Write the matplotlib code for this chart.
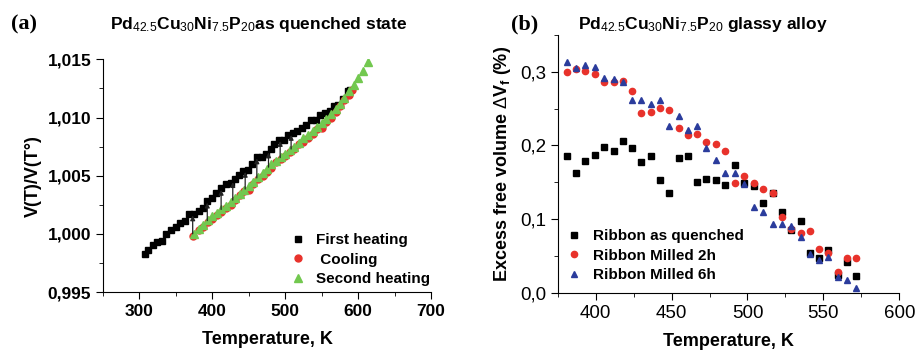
import numpy as np
import matplotlib
matplotlib.use("Agg")
from matplotlib import pyplot as plt
from matplotlib.ticker import FuncFormatter, MultipleLocator

plt.rcParams['font.family'] = ['Liberation Sans', 'DejaVu Sans']
plt.rcParams['mathtext.fontset'] = 'custom'
plt.rcParams['mathtext.rm'] = 'Liberation Sans'
plt.rcParams['mathtext.bf'] = 'Liberation Sans:bold'
plt.rcParams['mathtext.it'] = 'Liberation Sans:italic'

# ---- panel (a): dilatometry, V(T)/V(T0)
t_first = [307, 312, 318, 324.5, 331, 337, 343.5, 350, 356, 362.5, 368, 374.5,
           381, 387, 393, 399, 405.5, 412, 418.5, 425, 430.5, 436.5, 442, 448.5,
           454.5, 461, 467.5, 473.5, 480, 485, 491.5, 498, 504, 510.5, 516.5, 523,
           529, 535, 541.5, 548, 554.5, 561, 566.5, 573, 579, 585.5, 589]
v_first = [0.9983, 0.9986, 0.9990, 0.9993, 0.9994, 1.0000, 1.0003, 1.0006, 1.0009,
           1.0011, 1.0017, 1.0017, 1.0020, 1.0022, 1.0028, 1.0031, 1.0035, 1.0039,
           1.0043, 1.0044, 1.0047, 1.0051, 1.0054, 1.0055, 1.0060, 1.0066, 1.0066,
           1.0069, 1.0073, 1.0077, 1.0081, 1.0081, 1.0085, 1.0087, 1.0088, 1.0091,
           1.0094, 1.0098, 1.0098, 1.0102, 1.0104, 1.0106, 1.0110, 1.0111, 1.0116,
           1.0123, 1.0124]

t_cool = [374, 381, 387.5, 394, 400, 406, 412, 419, 425, 431, 437.5, 444, 450,
          456, 462.5, 469, 475, 481, 487.5, 494, 500, 506, 512.5, 519, 525, 531,
          537.5, 544, 550, 556, 562.5, 569, 575, 581, 587.5, 591]
v_cool = [0.9998, 1.0003, 1.0006, 1.0010, 1.0013, 1.0016, 1.0019, 1.0022, 1.0025,
          1.0029, 1.0033, 1.0037, 1.0038, 1.0043, 1.0047, 1.0050, 1.0053, 1.0057,
          1.0062, 1.0064, 1.0067, 1.0070, 1.0073, 1.0077, 1.0079, 1.0082, 1.0086,
          1.0090, 1.0091, 1.0096, 1.0100, 1.0105, 1.0110, 1.0115, 1.0119, 1.0124]

t_second = [375, 381, 387.5, 394, 400, 406, 412, 419, 425, 431, 437.5, 444, 450,
            456, 462.5, 469, 475, 481, 487.5, 494, 500, 506, 512.5, 519, 525, 531,
            537.5, 544, 550, 556, 562.5, 569, 575, 581, 587.5, 594, 600, 606, 614]
v_second = [1.0000, 1.0004, 1.0008, 1.0012, 1.0015, 1.0018, 1.0021, 1.0024, 1.0027,
            1.0031, 1.0034, 1.0038, 1.0041, 1.0045, 1.0049, 1.0052, 1.0056, 1.0060,
            1.0063, 1.0066, 1.0069, 1.0072, 1.0075, 1.0078, 1.0082, 1.0085, 1.0088,
            1.0092, 1.0095, 1.0099, 1.0103, 1.0107, 1.0112, 1.0117, 1.0123, 1.0128,
            1.0134, 1.0140, 1.0148]

# temperatures where the thin arrows join the two heating curves
t_arrows = [373, 393, 412, 428, 445, 461, 477, 493, 508]

# ---- panel (b): excess free volume
t_b = [381, 387, 393, 399.5, 405.5, 412, 418, 424, 430, 436.5, 442.5, 448.5, 455,
       461, 467, 473, 479.5, 485.5, 491.5, 498, 504, 510, 516.5, 522.5, 528.5, 535,
       541, 547, 553, 559.5, 565.5, 571.5]
fv_quenched = [0.186, 0.162, 0.179, 0.187, 0.198, 0.193, 0.2055, 0.196, 0.177, 0.1856,
               0.153, 0.135, 0.183, 0.186, 0.150, 0.155, 0.153, 0.146, 0.174, 0.149,
               0.1456, 0.1216, 0.135, 0.110, 0.085, 0.098, 0.0536, 0.0477, 0.058,
               0.0236, 0.042, 0.0227]
fv_milled2 = [0.2998, 0.304, 0.3007, 0.2976, 0.2867, 0.2867, 0.287, 0.2735, 0.2445,
              0.2449, 0.2513, 0.248, 0.2237, 0.214, 0.2155, 0.205, 0.2014, 0.1924,
              0.149, 0.1588, 0.149, 0.141, 0.136, 0.1025, 0.087, 0.0808, 0.0844,
              0.060, 0.0545, 0.028, 0.047, 0.0475]
fv_milled6 = [0.313, 0.3057, 0.309, 0.3066, 0.291, 0.290, 0.2866, 0.262, 0.262,
              0.2558, 0.262, 0.2259, 0.240, 0.2204, 0.2259, 0.196, 0.1796, 0.163,
              0.1624, 0.148, 0.116, 0.1098, 0.0939, 0.0939, 0.0912, 0.0753, 0.0527,
              0.0445, 0.049, 0.0214, 0.0173, 0.006]

RED = '#e8322b'
GREEN = '#72c84f'
BLUE = '#2b3c9c'


def comma(fmt):
    return FuncFormatter(lambda v, p: fmt.format(v).replace('.', ','))


fig = plt.figure(figsize=(9.15, 3.53), dpi=100)

# ---------------- (a)
ax1 = fig.add_axes([0.1126, 0.1728, 0.3585, 0.659])
for t in t_arrows:
    y0 = np.interp(t, t_second, v_second)
    y1 = np.interp(t, t_first, v_first)
    ax1.annotate('', xy=(t, y1), xytext=(t, y0),
                 arrowprops=dict(arrowstyle='-|>', color='#222222', lw=0.9,
                                 mutation_scale=7, shrinkA=0, shrinkB=1))
ax1.plot(t_first, v_first, 's', color='black', ms=5, label='First heating')
ax1.plot(t_cool, v_cool, 'o', color=RED, ms=5, label=' Cooling')
ax1.plot(t_second, v_second, '^', color=GREEN, ms=5.5, label='Second heating')

ax1.set_xlim(250, 700)
ax1.set_ylim(0.995, 1.015)
ax1.xaxis.set_major_locator(MultipleLocator(100))
ax1.xaxis.set_minor_locator(MultipleLocator(50))
ax1.yaxis.set_major_locator(MultipleLocator(0.005))
ax1.yaxis.set_minor_locator(MultipleLocator(0.0025))
ax1.yaxis.set_major_formatter(comma('{:.3f}'))
ax1.spines['top'].set_visible(False)
ax1.spines['right'].set_visible(False)
ax1.tick_params(which='major', direction='out', length=5, labelsize=12.5)
ax1.tick_params(which='minor', direction='out', length=3)
for lab in ax1.get_xticklabels() + ax1.get_yticklabels():
    lab.set_fontweight('bold')
ax1.set_xlabel('Temperature, K', fontsize=13, fontweight='bold', labelpad=9)
ax1.set_ylabel('V(T)/V(T°)', fontsize=13, fontweight='bold', labelpad=4)
leg1 = ax1.legend(loc='lower right', frameon=False, fontsize=11, handlelength=0.8,
                  handletextpad=0.8, labelspacing=0.35, borderaxespad=0.3,
                  bbox_to_anchor=(1.03, -0.02))
for txt in leg1.get_texts():
    txt.set_fontweight('bold')

fig.text(0.012, 0.93, '(a)', fontsize=16, fontweight='bold',
         family='Liberation Serif', va='center')
fig.text(0.283, 0.93, r'Pd$_{42.5}$Cu$_{30}$Ni$_{7.5}$P$_{20}$as quenched state',
         fontsize=12.5, fontweight='bold', ha='center', va='center')

# ---------------- (b)
ax2 = fig.add_axes([0.6095, 0.1708, 0.3733, 0.730])
ax2.plot(t_b, fv_quenched, 's', color='black', ms=4.2, label='Ribbon as quenched')
ax2.plot(t_b, fv_milled2, 'o', color=RED, ms=4.5, label='Ribbon Milled 2h')
ax2.plot(t_b, fv_milled6, '^', color=BLUE, ms=5, label='Ribbon Milled 6h')

ax2.set_xlim(375, 600)
ax2.set_ylim(0, 0.35)
ax2.xaxis.set_major_locator(MultipleLocator(50))
ax2.xaxis.set_minor_locator(MultipleLocator(25))
ax2.yaxis.set_major_locator(MultipleLocator(0.1))
ax2.yaxis.set_minor_locator(MultipleLocator(0.05))
ax2.yaxis.set_major_formatter(comma('{:.1f}'))
ax2.spines['top'].set_visible(False)
ax2.spines['right'].set_visible(False)
ax2.tick_params(which='major', direction='out', length=5, labelsize=13.5)
ax2.tick_params(which='minor', direction='out', length=3)
ax2.set_xlabel('Temperature, K', fontsize=13, fontweight='bold', labelpad=8)
ax2.set_ylabel(r'Excess free volume $\Delta$V$_\mathbf{f}$ (%)', fontsize=13,
               fontweight='bold', labelpad=5)
leg2 = ax2.legend(loc='lower left', frameon=False, fontsize=11, handlelength=0.8,
                  handletextpad=0.8, labelspacing=0.35, borderaxespad=0.3,
                  bbox_to_anchor=(0.0, 0.0))
for txt in leg2.get_texts():
    txt.set_fontweight('bold')

fig.text(0.558, 0.93, '(b)', fontsize=16, fontweight='bold',
         family='Liberation Serif', va='center')
fig.text(0.768, 0.93, r'Pd$_{42.5}$Cu$_{30}$Ni$_{7.5}$P$_{20}$ glassy alloy',
         fontsize=12.5, fontweight='bold', ha='center', va='center')

fig.savefig('out.png', dpi=100)
